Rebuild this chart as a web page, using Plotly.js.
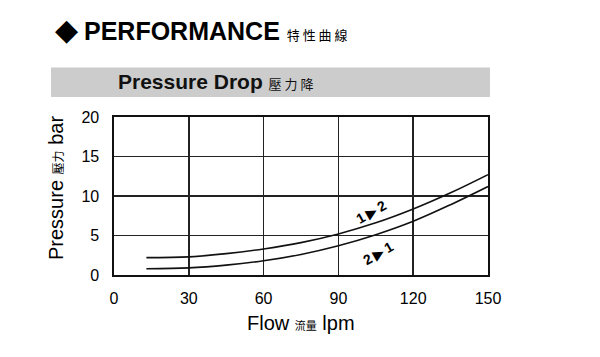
<!DOCTYPE html>
<html>
<head>
<meta charset="utf-8">
<script src="https://cdn.plot.ly/plotly-3.0.1.min.js"></script>
<style>html,body{margin:0;padding:0;background:#fff}#chart{width:600px;height:357px}</style>
</head>
<body>
<div id="chart"></div>
<script>
// Data
var flow12 = [13, 30, 45, 60, 75, 90, 105, 120, 135, 150];
var dp12   = [2.2, 2.3, 2.7, 3.3, 4.1, 5.2, 6.6, 8.35, 10.4, 12.7];
var flow21 = [13, 30, 45, 60, 75, 90, 105, 120, 135, 150];
var dp21   = [0.8, 0.9, 1.25, 1.8, 2.6, 3.7, 5.1, 6.8, 8.9, 11.2];
var xTicks = [0, 30, 60, 90, 120, 150];
var yTicks = [0, 5, 10, 15, 20];
var curveLabels = ["1\u2009\u25B6\u20092", "2\u2009\u25B6\u20091"];
var labelX = [103, 106];
var labelY = [8.0, 2.8];

var F = "Liberation Sans, Arial, sans-serif";
var CJK = "Noto Sans CJK TC";

var traces = [
  {x: flow12, y: dp12, mode: "lines", line: {color: "#111", width: 1.6, shape: "spline"}, hoverinfo: "skip"},
  {x: flow21, y: dp21, mode: "lines", line: {color: "#111", width: 1.6, shape: "spline"}, hoverinfo: "skip"}
];

var ann = [
  {text: "\u25C6", xref: "paper", yref: "paper", x: (66-114)/374, y: (275-30)/158, xanchor: "center", yanchor: "middle", showarrow: false, font: {size: 30, color: "#000", family: "DejaVu Sans"}},
  {text: "<b>PERFORMANCE</b> <span style='font-family:" + CJK + ";font-size:13px'>特 性 曲 線</span>", xref: "paper", yref: "paper", x: (82-114)/374, y: (275-31)/158, xanchor: "left", yanchor: "middle", showarrow: false, font: {size: 25, color: "#000", family: F}},
  {text: "<b>Pressure Drop</b> <span style='font-family:" + CJK + ";font-size:13px'>壓 力 降</span>", xref: "paper", yref: "paper", x: (116-114)/374, y: (275-82)/158, xanchor: "left", yanchor: "middle", showarrow: false, font: {size: 21, color: "#111", family: F}},
  {text: "Pressure <span style='font-family:" + CJK + ";font-size:12px'>壓力</span> bar", xref: "paper", yref: "paper", x: (56-114)/374, y: (275-188)/158, xanchor: "center", yanchor: "middle", textangle: -90, showarrow: false, font: {size: 20, color: "#000", family: F}},
  {text: "Flow <span style='font-family:" + CJK + ";font-size:11px'>流量</span> lpm", xref: "paper", yref: "paper", x: (301-114)/374, y: (275-323)/158, xanchor: "center", yanchor: "middle", showarrow: false, font: {size: 20, color: "#000", family: F}}
];
for (var i = 0; i < curveLabels.length; i++) {
  ann.push({text: "<b>" + curveLabels[i] + "</b>", x: labelX[i], y: labelY[i], xref: "x", yref: "y", textangle: -30, showarrow: false, font: {size: 14, color: "#000", family: "Liberation Sans, DejaVu Sans"}});
}

var layout = {
  width: 600, height: 357,
  margin: {l: 114, r: 112, t: 117, b: 82, pad: 0},
  paper_bgcolor: "#fff", plot_bgcolor: "#fff",
  showlegend: false,
  font: {family: F, color: "#000"},
  xaxis: {range: [0, 150], tickvals: xTicks, ticktext: xTicks.map(String), showgrid: true, gridcolor: "#222", gridwidth: 1.6,
          showline: true, linecolor: "#111", linewidth: 1.6, mirror: true, zeroline: false, ticks: "", ticklabelstandoff: 8,
          tickfont: {size: 16, family: F, color: "#000"}, fixedrange: true},
  yaxis: {range: [0, 20], tickvals: yTicks, ticktext: yTicks.map(String), showgrid: true, gridcolor: "#222", gridwidth: 1.6,
          showline: true, linecolor: "#111", linewidth: 1.6, mirror: true, zeroline: false, ticks: "", ticklabelstandoff: 10,
          tickfont: {size: 16, family: F, color: "#000"}, fixedrange: true},
  shapes: [
    {type: "rect", xref: "paper", yref: "paper", x0: (51-114)/374, x1: (490-114)/374, y0: (275-97)/158, y1: (275-67.5)/158, fillcolor: "#cccccc", line: {width: 0}, layer: "below"}
  ],
  annotations: ann
};

Plotly.newPlot("chart", traces, layout, {staticPlot: true, displayModeBar: false});
</script>
</body>
</html>
